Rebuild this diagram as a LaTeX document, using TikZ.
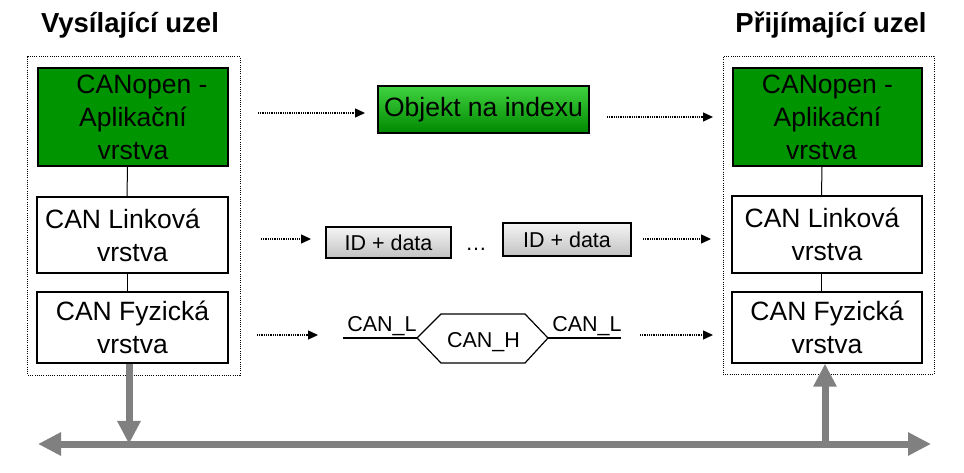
\documentclass[tikz,border=0pt]{standalone}
\usepackage{fontspec}
\setmainfont{Liberation Sans}
\usetikzlibrary{arrows.meta,calc}
\definecolor{cgreen}{RGB}{0,148,0}
\definecolor{busgray}{RGB}{128,128,128}
\tikzset{
  layer/.style={draw=black, line width=1.3bp, inner sep=0pt, align=center,
    font=\fontsize{26.5bp}{33bp}\selectfont},
  greenlayer/.style={layer, fill=cgreen},
  outerbox/.style={draw=black, line width=1bp, dash pattern=on 1bp off 1.2bp, inner sep=0pt},
  flowarrow/.style={draw=black, line width=1.3bp, dash pattern=on 1bp off 0.8bp,
    -{Triangle[length=10bp,width=9bp]}},
  busarrow/.style={draw=busgray, line width=7bp,
    -{Triangle[length=23bp,width=22bp]}},
  busline/.style={draw=busgray, line width=7bp,
    {Triangle[length=23bp,width=22bp]}-{Triangle[length=23bp,width=22bp]}},
  frame/.style={draw=black, line width=1.2bp, inner sep=0pt,
    font=\fontsize{21.5bp}{26bp}\selectfont},
  title/.style={font=\bfseries\fontsize{27.5bp}{33bp}\selectfont, anchor=base},
  small/.style={font=\fontsize{21.5bp}{26bp}\selectfont, inner sep=0pt},
  joint/.style={draw=black, line width=1bp},
  sig/.style={draw=black, line width=1.2bp}
}
\begin{document}
\begin{tikzpicture}[x=1bp,y=-1bp]
\useasboundingbox (0,0) rectangle (964,473);

% titles
\node[title] (tl) at (130,33) {Vysílající uzel};
\node[title] (tr) at (831,33) {Přijímající uzel};

% outer dotted frames
\node[outerbox, minimum width=212bp, minimum height=318bp] (ol) at (134,216) {};
\node[outerbox, minimum width=211bp, minimum height=317bp] (or) at (828.5,215.5) {};

% left node layers
\node[greenlayer, minimum width=190bp, minimum height=98bp] (lg) at (133,117)
  {\hspace*{18bp}CANopen -\\Aplikační\\vrstva};
\node[layer, minimum width=191bp, minimum height=76bp] (ll) at (132.5,235)
  {CAN Linková\hspace*{20bp}\\vrstva};
\node[layer, minimum width=191bp, minimum height=71bp] (lp) at (132.5,327.5)
  {CAN Fyzická\\vrstva};

% right node layers
\node[greenlayer, minimum width=189bp, minimum height=98bp] (rg) at (827.5,117)
  {CANopen -\\Aplikační\hspace*{16bp}\\vrstva\hspace*{12bp}};
\node[layer, minimum width=190bp, minimum height=77bp] (rl) at (827,234.5)
  {CAN Linková\hspace*{10bp}\\vrstva};
\node[layer, minimum width=190bp, minimum height=71bp] (rp) at (827,327.5)
  {CAN Fyzická\\vrstva};

% joints between layers
\draw[joint] ([xshift=-5.5bp]lg.south) -- ([xshift=-5.5bp]ll.north);
\draw[joint] ([xshift=-5.5bp]ll.south) -- ([xshift=-5.5bp]lp.north);
\draw[joint] ([xshift=-5.5bp]rg.south) -- ([xshift=-5.5bp]rl.north);
\draw[joint] ([xshift=-5.5bp]rl.south) -- ([xshift=-5.5bp]rp.north);

% middle row 1
\node[frame, top color=green!45!cgreen!75!white, bottom color=cgreen!92!black,
  minimum width=211bp, minimum height=47bp,
  font=\fontsize{26.5bp}{33bp}\selectfont] (obj) at (483.5,109.5) {Objekt na indexu};
\coordinate (a1s) at (258,113);
\coordinate (a1e) at (365,113);
\coordinate (a2s) at (607,117);
\coordinate (a2e) at (713,117);
\draw[flowarrow] (a1s) -- (a1e);
\draw[flowarrow] (a2s) -- (a2e);

% middle row 2
\node[frame, top color=white!96!black, bottom color=white!76!black,
  minimum width=125bp, minimum height=31bp] (id1) at (388.5,242.5) {ID + data};
\node[frame, top color=white!96!black, bottom color=white!76!black,
  minimum width=128bp, minimum height=33bp] (id2) at (567,239.5) {ID + data};
\node[small, anchor=base] (dots) at (476,251) {\dots};
\coordinate (b1s) at (261,239);
\coordinate (b1e) at (311,239);
\coordinate (b2s) at (643,239);
\coordinate (b2e) at (711,239);
\draw[flowarrow] (b1s) -- (b1e);
\draw[flowarrow] (b2s) -- (b2e);

% middle row 3: CAN_L / CAN_H signal
\coordinate (hl) at (417,338);
\coordinate (htl) at (441,314);
\coordinate (htr) at (525,314);
\coordinate (hr) at (548,338);
\coordinate (hbr) at (525,363);
\coordinate (hbl) at (441,363);
\coordinate (ll0) at (343,338);
\coordinate (rl1) at (621,338);
\draw[sig] (hl) -- (htl) -- (htr) -- (hr) -- (hbr) -- (hbl) -- cycle;
\draw[sig] (ll0) -- (hl);
\draw[sig] (hr) -- (rl1);
\node[small, anchor=base] (canh) at (483.5,348) {CAN\_H};
\node[small, anchor=base] (canl1) at (382,332) {CAN\_L};
\node[small, anchor=base] (canl2) at (587,332) {CAN\_L};
\coordinate (c1s) at (257,335);
\coordinate (c1e) at (318,335);
\coordinate (c2s) at (640,335);
\coordinate (c2e) at (713,335);
\draw[flowarrow] (c1s) -- (c1e);
\draw[flowarrow] (c2s) -- (c2e);

% bus
\coordinate (busL) at (38,444);
\coordinate (busR) at (931,444);
\coordinate (tapL) at (129,444);
\coordinate (tapR) at (825,444);
\draw[busline] (busL) -- (busR);
\draw[busarrow] (tapL |- lp.south) -- (tapL);
\draw[busarrow] (tapR) -- (tapR |- rp.south);
\end{tikzpicture}
\end{document}
